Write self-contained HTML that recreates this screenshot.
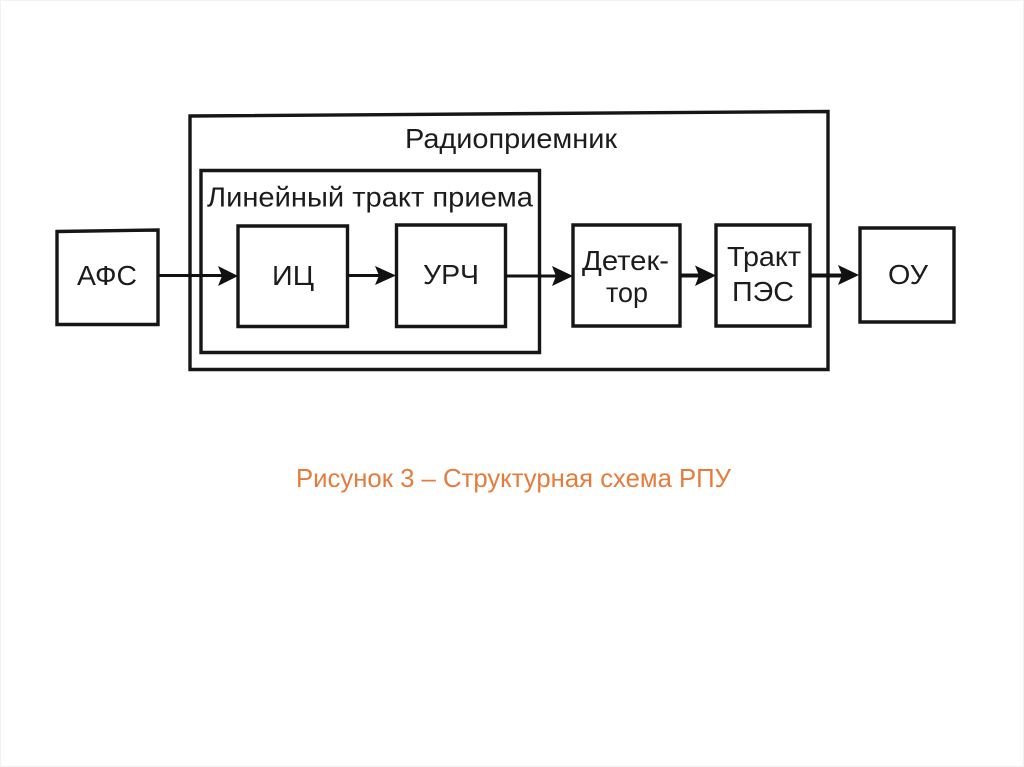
<!DOCTYPE html>
<html lang="ru">
<head>
<meta charset="utf-8">
<style>
html,body{margin:0;padding:0;background:#fff;}
svg{display:block;}
text{font-family:"Liberation Sans",sans-serif;}
</style>
</head>
<body>
<svg width="1024" height="767" viewBox="0 0 1024 767" xmlns="http://www.w3.org/2000/svg">
<rect x="0" y="0" width="1024" height="767" fill="#fff"/>
<rect x="0.5" y="0.5" width="1023" height="766" fill="none" stroke="#f2f2f2"/>
<g fill="none" stroke="#161616" stroke-width="3.4" stroke-linejoin="miter">
<path d="M190 116L828 111.500V369.500H190Z"/>
<path d="M201 170.500H539.500V352.500H201Z"/>
<path d="M57 231.500L158 230V324.500H57Z"/>
<path d="M238 226H347.500V326.500H238Z"/>
<path d="M396.500 225H505.500V326.500H396.500Z"/>
<path d="M573 225H680V326H573Z"/>
<path d="M716 225H810V326H716Z"/>
<path d="M860 228H954V322H860Z"/>
</g>
<g fill="none" stroke="#111" stroke-width="3">
<path d="M158 275.500H224"/>
<path d="M347 275.500H380"/>
<path d="M505 276H556"/>
</g>
<g fill="none" stroke="#111" stroke-width="4">
<path d="M680 275.500H700"/>
<path d="M810 275.500H842"/>
</g>
<g fill="#111">
<path d="M238 276L218 266L222 276L218 286Z"/>
<path d="M396 275.500L375 266L379 275.500L375 285Z"/>
<path d="M573 276L552 266L556 276L552 286Z"/>
<path d="M716 275.500L695 265.500L699 275.500L695 286Z"/>
<path d="M859 275L838 265L842 275L838 285Z"/>
</g>
<g fill="#1c1c1c" font-size="28">
<text x="405" y="148" textLength="212" lengthAdjust="spacingAndGlyphs">Радиоприемник</text>
<text x="207" y="206.500" textLength="326" lengthAdjust="spacingAndGlyphs">Линейный тракт приема</text>
<text x="77" y="285" textLength="60" lengthAdjust="spacingAndGlyphs">АФС</text>
<text x="272" y="285" textLength="42" lengthAdjust="spacingAndGlyphs">ИЦ</text>
<text x="423" y="284" textLength="56" lengthAdjust="spacingAndGlyphs">УРЧ</text>
<text x="582" y="270" textLength="87" lengthAdjust="spacingAndGlyphs">Детек-</text>
<text x="606" y="302" textLength="42" lengthAdjust="spacingAndGlyphs">тор</text>
<text x="727" y="266" textLength="74" lengthAdjust="spacingAndGlyphs">Тракт</text>
<text x="732" y="301" textLength="62" lengthAdjust="spacingAndGlyphs">ПЭС</text>
<text x="888" y="284" textLength="40" lengthAdjust="spacingAndGlyphs">ОУ</text>
</g>
<text x="296" y="487" fill="#e67c3c" font-size="25.600" textLength="435" lengthAdjust="spacingAndGlyphs">Рисунок 3 – Структурная схема РПУ</text>
</svg>
</body>
</html>
